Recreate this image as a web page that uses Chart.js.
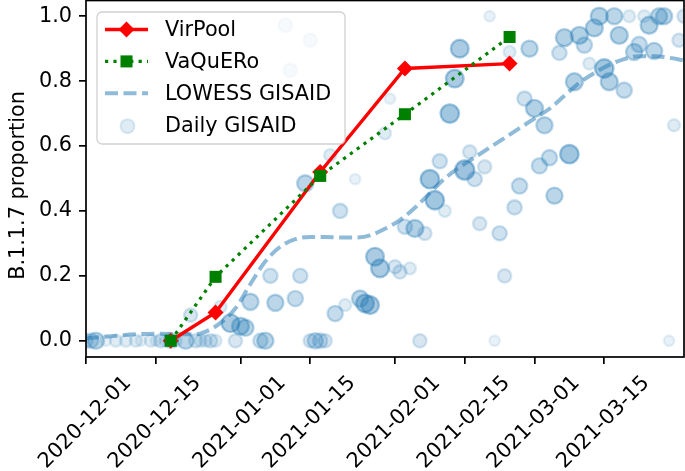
<!DOCTYPE html>
<html>
<head>
<meta charset="utf-8">
<script src="https://cdn.jsdelivr.net/npm/chart.js@4.4.1/dist/chart.umd.min.js"></script>
<style>
  html, body { margin: 0; padding: 0; background: #fff; }
</style>
</head>
<body>
<canvas id="myChart" width="685" height="471"></canvas>
<script>
// axis range and ticks
const startDate = '2020-12-01';
const endDate = '2021-03-31';
const xTickLabels = ['2020-12-01', '2020-12-15', '2021-01-01', '2021-01-15', '2021-02-01', '2021-02-15', '2021-03-01', '2021-03-15'];
const yTickValues = [0, 0.2, 0.4, 0.6, 0.8, 1.0];
const yTitle = 'B.1.1.7 proportion';

// wastewater samples
const sampleDates = ['2020-12-18', '2020-12-27', '2021-01-17', '2021-02-03', '2021-02-24'];
const virpoolValues = [0, 0.087, 0.52, 0.839, 0.854];
const vaqueroValues = [0, 0.197, 0.508, 0.698, 0.936];

// LOWESS fit of GISAID
const lowessDates = ['2020-12-01', '2020-12-06', '2020-12-11', '2020-12-16', '2020-12-20', '2020-12-23', '2020-12-25', '2020-12-28',
  '2020-12-31', '2021-01-03', '2021-01-06', '2021-01-09', '2021-01-12', '2021-01-15', '2021-01-18', '2021-01-21', '2021-01-24',
  '2021-01-27', '2021-01-30', '2021-02-02', '2021-02-05', '2021-02-08', '2021-02-11', '2021-02-14', '2021-02-17', '2021-02-20',
  '2021-02-23', '2021-02-26', '2021-03-01', '2021-03-04', '2021-03-07', '2021-03-10', '2021-03-13', '2021-03-16', '2021-03-19',
  '2021-03-22', '2021-03-25', '2021-03-28', '2021-03-31'];
const lowessValues = [0.008, 0.014, 0.02, 0.022, 0.02, 0.02, 0.028, 0.055,
  0.10, 0.175, 0.245, 0.29, 0.313, 0.32, 0.32, 0.318, 0.318,
  0.325, 0.345, 0.372, 0.41, 0.455, 0.50, 0.535, 0.565, 0.595,
  0.625, 0.655, 0.685, 0.715, 0.755, 0.795, 0.825, 0.85, 0.868,
  0.877, 0.877, 0.872, 0.864];

// daily GISAID proportions and sequence counts
const gisaidDates = [
  '2020-12-01', '2020-12-02', '2020-12-03', '2020-12-05', '2020-12-07', '2020-12-09', '2020-12-11', '2020-12-12', '2020-12-14', '2020-12-15',
  '2020-12-16', '2020-12-17', '2020-12-18', '2020-12-19', '2020-12-21', '2020-12-22', '2020-12-23', '2020-12-24', '2020-12-25', '2020-12-26',
  '2020-12-27', '2020-12-28', '2020-12-30', '2020-12-31', '2021-01-01', '2021-01-02', '2021-01-03', '2021-01-05', '2021-01-06', '2021-01-07',
  '2021-01-08', '2021-01-10', '2021-01-11', '2021-01-12', '2021-01-13', '2021-01-14', '2021-01-15', '2021-01-15', '2021-01-16', '2021-01-17',
  '2021-01-18', '2021-01-19', '2021-01-20', '2021-01-21', '2021-01-22', '2021-01-24', '2021-01-25', '2021-01-26', '2021-01-27', '2021-01-28',
  '2021-01-29', '2021-01-30', '2021-01-31', '2021-02-01', '2021-02-02', '2021-02-03', '2021-02-04', '2021-02-05', '2021-02-06', '2021-02-07',
  '2021-02-08', '2021-02-09', '2021-02-10', '2021-02-11', '2021-02-12', '2021-02-13', '2021-02-14', '2021-02-15', '2021-02-16', '2021-02-17',
  '2021-02-18', '2021-02-19', '2021-02-20', '2021-02-21', '2021-02-22', '2021-02-23', '2021-02-24', '2021-02-25', '2021-02-26', '2021-02-27',
  '2021-02-28', '2021-03-01', '2021-03-02', '2021-03-03', '2021-03-04', '2021-03-05', '2021-03-06', '2021-03-07', '2021-03-08', '2021-03-09',
  '2021-03-10', '2021-03-11', '2021-03-12', '2021-03-13', '2021-03-14', '2021-03-15', '2021-03-16', '2021-03-17', '2021-03-18', '2021-03-19',
  '2021-03-20', '2021-03-21', '2021-03-22', '2021-03-23', '2021-03-24', '2021-03-25', '2021-03-26', '2021-03-27', '2021-03-28', '2021-03-29',
  '2021-03-30', '2021-03-31'];
const gisaidValues = [
  0, 0, 0, 0, 0, 0, 0, 0, 0, 0,
  0, 0, 0, 0, 0, 0.079, 0, 0, 0, 0,
  0, 0.105, 0.054, 0, 0.045, 0.04, 0.12, 0, 0, 0.2,
  0.117, 0.972, 0.834, 0.13, 0.2, 0.485, 0.926, 0, 0, 0,
  0, 0.572, 0.084, 0.4, 0.11, 0.498, 0.13, 0.115, 0.11, 0.259,
  0.223, 0.639, 0.746, 0.228, 0.212, 0.351, 0.223, 0.346, 0, 0.331,
  0.498, 0.433, 0.553, 0.4, 0.7, 0.808, 0.9, 0.526, 0.582, 0.498,
  0.361, 0.536, 1, 0, 0.331, 0.2, 0.89, 0.411, 0.477, 0.746,
  0.9, 0.716, 0.539, 0.664, 0.564, 0.447, 0.887, 0.934, 0.575, 0.798,
  0.941, 0.911, 0.854, 0.964, 1, 0.839, 0.798, 1, 0.941, 0.772,
  1, 0.89, 0.913, 1, 0.972, 0.893, 1, 1, 0, 0.664,
  0.926, 1];
const gisaidCounts = [
  3, 4, 6, 1, 2, 2, 2, 1, 2, 1,
  3, 2, 4, 2, 6, 3, 3, 2, 2, 3,
  2, 2, 8, 3, 7, 6, 6, 4, 6, 4,
  6, 3, 3, 5, 4, 6, 3, 3, 5, 4,
  3, 2, 5, 4, 2, 1, 6, 8, 8, 8,
  8, 2, 1, 3, 3, 4, 2, 7, 3, 3,
  9, 9, 4, 2, 9, 8, 8, 10, 3, 4,
  3, 3, 1, 1, 4, 3, 2, 4, 5, 4,
  6, 7, 5, 6, 5, 6, 4, 7, 9, 7,
  7, 5, 2, 7, 7, 9, 7, 6, 7, 5,
  2, 6, 5, 2, 7, 6, 6, 6, 1, 2,
  3, 3];

const FONT = 'DejaVu Sans';
const FS = 20.8;
const BLUE = '31,119,180';

function dayOf(d) {
  return (Date.parse(d) - Date.parse(startDate)) / 86400000;
}
function bubbleRadius(n) { return 3.2 + 2.0 * Math.sqrt(n); }
function bubbleAlpha(n) { return Math.min(0.44, 0.06 + 0.04 * n); }

const xTickDays = xTickLabels.map(dayOf);

const virpoolData = sampleDates.map((d, i) => ({ x: dayOf(d), y: virpoolValues[i] }));
const vaqueroData = sampleDates.map((d, i) => ({ x: dayOf(d), y: vaqueroValues[i] }));
const lowessData = lowessDates.map((d, i) => ({ x: dayOf(d), y: lowessValues[i] }));
const gisaidData = gisaidDates.map((d, i) => ({ x: dayOf(d), y: gisaidValues[i], n: gisaidCounts[i] }));

// matplotlib-like frame, y label and legend
const frameLegend = {
  id: 'frameLegend',
  afterDatasetsDraw(chart) {
    const ctx = chart.ctx;
    const a = chart.chartArea;
    ctx.save();
    ctx.strokeStyle = '#000';
    ctx.lineWidth = 1.7;
    ctx.strokeRect(a.left, a.top + 0.5, a.right - a.left, a.bottom - a.top - 0.5);

    // y axis label
    ctx.save();
    ctx.translate(19, (a.top + a.bottom) / 2 + 7);
    ctx.rotate(-Math.PI / 2);
    ctx.fillStyle = '#000';
    ctx.font = FS + 'px "' + FONT + '"';
    ctx.textAlign = 'center';
    ctx.textBaseline = 'middle';
    ctx.fillText(yTitle, 0, 0);
    ctx.restore();

    const bx = a.left + 11, by = a.top + 12, bw = 248, bh = 132;
    ctx.beginPath();
    ctx.roundRect(bx, by, bw, bh, 5);
    ctx.fillStyle = 'rgba(255,255,255,0.8)';
    ctx.fill();
    ctx.strokeStyle = 'rgba(204,204,204,0.9)';
    ctx.lineWidth = 1.3;
    ctx.stroke();

    const order = ['VirPool', 'VaQuERo', 'LOWESS GISAID', 'Daily GISAID'];
    order.forEach((label, i) => {
      const ds = chart.data.datasets.find(s => s.label === label);
      const cy = by + 17.5 + i * 31.9;
      const x0 = bx + 8, x1 = bx + 51, cx = (x0 + x1) / 2;
      if (ds.showLine !== false) {
        ctx.beginPath();
        ctx.setLineDash(ds.borderDash || []);
        ctx.strokeStyle = ds.borderColor;
        ctx.lineWidth = ds.borderWidth;
        ctx.moveTo(x0, cy);
        ctx.lineTo(x1, cy);
        ctx.stroke();
        ctx.setLineDash([]);
      }
      ctx.fillStyle = ds.legendColor || ds.pointBackgroundColor;
      ctx.strokeStyle = ds.legendEdge || ds.pointBorderColor;
      ctx.lineWidth = 2;
      if (ds.pointStyle === 'rectRot' && ds.pointRadius > 0) {
        const r = ds.pointRadius;
        ctx.beginPath();
        ctx.moveTo(cx - r, cy); ctx.lineTo(cx, cy - r); ctx.lineTo(cx + r, cy); ctx.lineTo(cx, cy + r);
        ctx.closePath(); ctx.fill();
      } else if (ds.pointStyle === 'rect' && ds.pointRadius > 0) {
        const s = Math.SQRT1_2 * ds.pointRadius;
        ctx.fillRect(cx - s, cy - s, 2 * s, 2 * s);
      } else if (ds.showLine === false) {
        ctx.beginPath();
        ctx.arc(cx + 1, cy + 1, 7, 0, Math.PI * 2);
        ctx.fill(); ctx.stroke();
      }
      ctx.fillStyle = '#000';
      ctx.font = FS + 'px "' + FONT + '"';
      ctx.textBaseline = 'middle';
      ctx.textAlign = 'left';
      ctx.fillText(label, bx + 68, cy + 1);
    });
    ctx.restore();
  }
};

const ctx = document.getElementById('myChart');
const myChart = new Chart(ctx, {
  type: 'scatter',
  data: {
    datasets: [{
      label: 'VaQuERo',
      type: 'line',
      data: vaqueroData,
      showLine: true,
      borderColor: '#008000',
      borderWidth: 3.2,
      borderDash: [3.2, 5.2],
      pointStyle: 'rect',
      pointRadius: 8.5,
      pointBackgroundColor: '#008000',
      pointBorderColor: '#008000',
      pointBorderWidth: 0,
      tension: 0,
      clip: 0,
      order: 0
    }, {
      label: 'VirPool',
      type: 'line',
      data: virpoolData,
      showLine: true,
      borderColor: '#ff0000',
      borderWidth: 3.4,
      pointStyle: 'rectRot',
      pointRadius: 8,
      pointBackgroundColor: '#ff0000',
      pointBorderColor: '#ff0000',
      pointBorderWidth: 0,
      tension: 0,
      clip: 0,
      order: 1
    }, {
      label: 'LOWESS GISAID',
      type: 'line',
      data: lowessData,
      showLine: true,
      borderColor: 'rgba(' + BLUE + ',0.5)',
      borderWidth: 4,
      borderDash: [13, 5.5],
      pointRadius: 0,
      cubicInterpolationMode: 'monotone',
      clip: 0,
      order: 2
    }, {
      label: 'Daily GISAID',
      data: gisaidData,
      showLine: false,
      pointStyle: 'circle',
      pointRadius: c => bubbleRadius(c.raw.n),
      pointBackgroundColor: c => 'rgba(' + BLUE + ',' + bubbleAlpha(c.raw.n) + ')',
      pointBorderColor: c => 'rgba(' + BLUE + ',' + bubbleAlpha(c.raw.n) + ')',
      pointBorderWidth: 2.4,
      legendColor: 'rgba(' + BLUE + ',0.14)',
      legendEdge: 'rgba(' + BLUE + ',0.14)',
      clip: 0,
      order: 3
    }]
  },
  options: {
    responsive: false,
    animation: false,
    events: [],
    layout: { autoPadding: false, padding: { left: 0, right: 1, top: 0, bottom: 0 } },
    plugins: {
      legend: { display: false },
      tooltip: { enabled: false }
    },
    scales: {
      x: {
        type: 'linear',
        min: dayOf(startDate),
        max: dayOf(endDate),
        afterBuildTicks: s => { s.ticks = xTickDays.map(v => ({ value: v })); },
        afterFit: s => { s.height = 114; s.paddingLeft = 0; s.paddingRight = 0; },
        grid: { drawOnChartArea: false, drawTicks: true, tickLength: 7, color: '#000', lineWidth: 1.7 },
        border: { display: false },
        ticks: {
          autoSkip: false,
          minRotation: 45,
          maxRotation: 45,
          labelOffset: 42,
          padding: 7,
          color: '#000',
          font: { family: FONT, size: FS },
          callback: (v, i) => xTickLabels[i]
        }
      },
      y: {
        min: -0.05,
        max: 1.05,
        afterBuildTicks: s => { s.ticks = yTickValues.map(v => ({ value: v })); },
        afterFit: s => { s.width = 86; s.paddingTop = 0; s.paddingBottom = 0; },
        grid: { drawOnChartArea: false, drawTicks: true, tickLength: 7, color: '#000', lineWidth: 1.7 },
        border: { display: false },
        ticks: {
          padding: 7,
          color: '#000',
          font: { family: FONT, size: FS },
          callback: v => v.toFixed(1)
        }
      }
    }
  },
  plugins: [frameLegend]
});
</script>
</body>
</html>
